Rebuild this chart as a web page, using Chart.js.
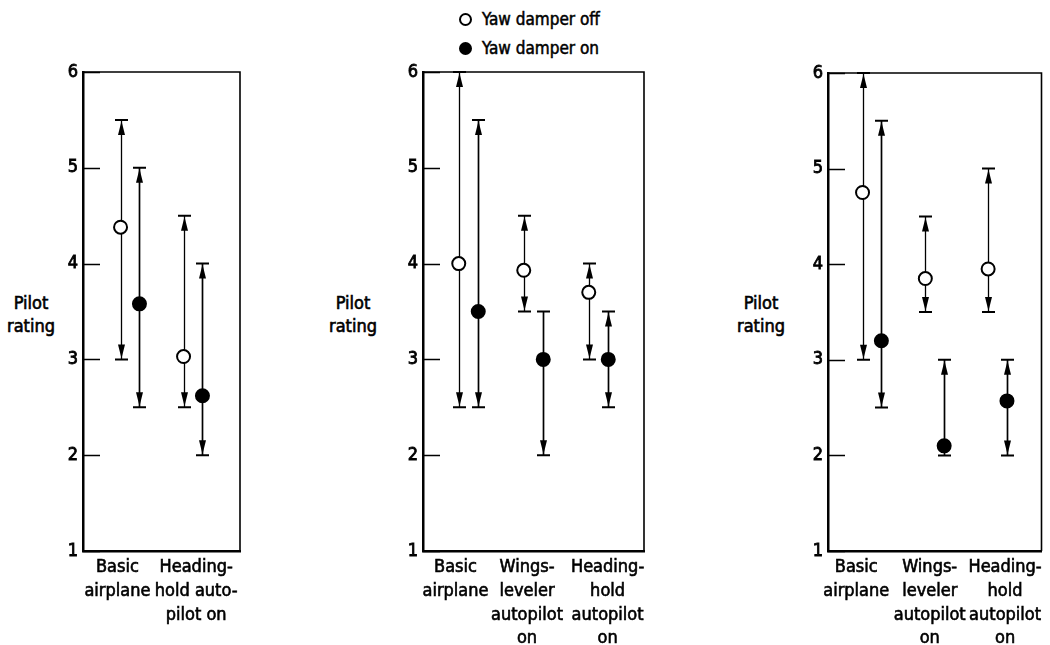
<!DOCTYPE html>
<html>
<head>
<meta charset="utf-8">
<script src="https://cdn.jsdelivr.net/npm/chart.js@4/dist/chart.umd.min.js"></script>
<style>
  html, body { margin: 0; padding: 0; background: #fff; width: 1050px; height: 645px; overflow: hidden; }
  body { position: relative; font-family: 'DejaVu Sans Condensed', 'Liberation Sans Narrow', 'DejaVu Sans', sans-serif; color: #000; }
  canvas.panel { position: absolute; }
  .ytitle { position: absolute; width: 70px; text-align: center; font-size: 18px; line-height: 23px; -webkit-text-stroke: 0.6px #000; }
  .legend { position: absolute; left: 459px; font-size: 17px; line-height: 20px; white-space: nowrap; -webkit-text-stroke: 0.5px #000; }
  .legend .mk { display: inline-block; width: 9px; height: 9px; border: 2px solid #000; border-radius: 50%; vertical-align: -1px; margin-right: 10px; -webkit-text-stroke: 0; }
  .legend .mk.on { background: #000; }
</style>
</head>
<body>
<div class="legend" style="top:9px"><span class="mk"></span>Yaw damper off</div>
<div class="legend" style="top:38px"><span class="mk on"></span>Yaw damper on</div>

<div class="ytitle" style="left:-4px; top:291px">Pilot<br>rating</div>
<div class="ytitle" style="left:318px; top:291px">Pilot<br>rating</div>
<div class="ytitle" style="left:726px; top:291px">Pilot<br>rating</div>

<canvas id="c1" class="panel"></canvas>
<canvas id="c2" class="panel"></canvas>
<canvas id="c3" class="panel"></canvas>

<script>
const FONT = "'DejaVu Sans Condensed', 'Liberation Sans Narrow', 'DejaVu Sans', sans-serif";

// Rating scale
const ratingTicks = [1, 2, 3, 4, 5, 6];

// Left panel: basic airplane and heading-hold autopilot
const p1Labels = [['Basic', 'airplane'], ['Heading-', 'hold auto-', 'pilot on']];
const p1OffMid = [4.38, 3.03];
const p1OffLow = [3.0, 2.5];
const p1OffHigh = [5.5, 4.5];
const p1OnMid = [3.58, 2.62];
const p1OnLow = [2.5, 2.0];
const p1OnHigh = [5.0, 4.0];

// Middle panel
const p2Labels = [['Basic', 'airplane'], ['Wings-', 'leveler', 'autopilot', 'on'], ['Heading-', 'hold', 'autopilot', 'on']];
const p2OffMid = [4.0, 3.93, 3.7];
const p2OffLow = [2.5, 3.5, 3.0];
const p2OffHigh = [6.0, 4.5, 4.0];
const p2OnMid = [3.5, 3.0, 3.0];
const p2OnLow = [2.5, 2.0, 2.5];
const p2OnHigh = [5.5, 3.5, 3.5];

// Right panel
const p3Labels = [['Basic', 'airplane'], ['Wings-', 'leveler', 'autopilot', 'on'], ['Heading-', 'hold', 'autopilot', 'on']];
const p3OffMid = [4.75, 3.85, 3.95];
const p3OffLow = [3.0, 3.5, 3.5];
const p3OffHigh = [6.0, 4.5, 5.0];
const p3OnMid = [3.2, 2.1, 2.57];
const p3OnLow = [2.5, 2.0, 2.0];
const p3OnHigh = [5.5, 3.0, 3.0];

// Bars whose upper end is drawn as a plain cap without an arrowhead
const p2OnPlainTop = [false, true, false];

const PAIR_OFFSET = 0.15;
const POINT_R = 6.5;

// Range bars with end caps and arrowheads pointing out to the caps
const rangeBars = {
  id: 'rangeBars',
  beforeDatasetsDraw(chart) {
    const ctx = chart.ctx;
    const xs = chart.scales.x, ys = chart.scales.y;
    ctx.save();
    ctx.strokeStyle = '#000';
    ctx.fillStyle = '#000';
    chart.data.datasets.forEach(ds => {
      ds.data.forEach((p, i) => {
        const px = Math.round(xs.getPixelForValue(p.x)) + 0.5;
        const yMid = ys.getPixelForValue(p.y);
        const yHi = ys.getPixelForValue(ds.high[i]);
        const yLo = ys.getPixelForValue(ds.low[i]);
        ctx.lineWidth = ds.barWidth;
        ctx.beginPath();
        ctx.moveTo(px, yHi); ctx.lineTo(px, yLo);
        ctx.stroke();
        ctx.lineWidth = 2;
        ctx.beginPath();
        ctx.moveTo(px - 6.5, yHi); ctx.lineTo(px + 6.5, yHi);
        ctx.moveTo(px - 6.5, yLo); ctx.lineTo(px + 6.5, yLo);
        ctx.stroke();
        const aLen = 15, aHalf = 3.5;
        const plainTop = ds.plainTop && ds.plainTop[i];
        if (!plainTop && (yMid - POINT_R) - yHi > aLen + 4) {
          ctx.beginPath();
          ctx.moveTo(px, yHi + 1);
          ctx.lineTo(px - aHalf, yHi + aLen);
          ctx.lineTo(px + aHalf, yHi + aLen);
          ctx.closePath(); ctx.fill();
        }
        if (yLo - (yMid + POINT_R) > aLen + 4) {
          ctx.beginPath();
          ctx.moveTo(px, yLo - 1);
          ctx.lineTo(px - aHalf, yLo - aLen);
          ctx.lineTo(px + aHalf, yLo - aLen);
          ctx.closePath(); ctx.fill();
        }
      });
    });
    ctx.restore();
  }
};

// Top and right edges of the box, plus short inward ticks on the rating axis
const boxFrame = {
  id: 'boxFrame',
  afterDraw(chart) {
    const ctx = chart.ctx, a = chart.chartArea, ys = chart.scales.y;
    ctx.save();
    ctx.strokeStyle = '#000';
    ctx.lineWidth = 1.6;
    ctx.beginPath();
    ctx.moveTo(a.left, a.top); ctx.lineTo(a.right, a.top); ctx.lineTo(a.right, a.bottom);
    ctx.stroke();
    ctx.lineWidth = 1.3;
    ctx.beginPath();
    ys.ticks.forEach(t => {
      const y = Math.round(ys.getPixelForValue(t.value)) + 0.5;
      ctx.moveTo(a.left, y); ctx.lineTo(a.left + 17, y);
    });
    ctx.stroke();
    ctx.restore();
  }
};

function series(mid, low, high, offset, filled, plainTop) {
  return {
    label: filled ? 'Yaw damper on' : 'Yaw damper off',
    data: mid.map((v, i) => ({ x: i + 1 + offset, y: v })),
    low: low,
    high: high,
    plainTop: plainTop || null,
    barWidth: filled ? 1.7 : 1.3,
    pointRadius: POINT_R,
    pointHoverRadius: POINT_R,
    pointBackgroundColor: filled ? '#000' : '#fff',
    pointBorderColor: '#000',
    pointBorderWidth: 2,
    showLine: false
  };
}

function drawPanel(id, box, labels, labelPos, xMin, xMax, off, on) {
  const AXIS_W = 50, PAD_TOP = 15;
  const padRight = Math.min(20, 1050 - box.right);
  const el = document.getElementById(id);
  const top = box.top - PAD_TOP;
  const W = AXIS_W + (box.right - box.left) + padRight;
  const H = 645 - top;
  el.style.left = (box.left - AXIS_W) + 'px';
  el.style.top = top + 'px';
  el.width = W; el.height = H;
  el.style.width = W + 'px'; el.style.height = H + 'px';
  const xAxisH = H - PAD_TOP - (box.bottom - box.top);
  const tickFont = { family: FONT, size: 18, lineHeight: 1.33 };

  new Chart(el.getContext('2d'), {
    type: 'scatter',
    data: {
      datasets: [
        series(off[0], off[1], off[2], -PAIR_OFFSET, false, off[3]),
        series(on[0], on[1], on[2], PAIR_OFFSET, true, on[3])
      ]
    },
    options: {
      responsive: false,
      animation: false,
      devicePixelRatio: 1,
      events: [],
      layout: { padding: { top: PAD_TOP, right: padRight, left: 0, bottom: 0 } },
      plugins: { legend: { display: false }, tooltip: { enabled: false } },
      scales: {
        x: {
          type: 'linear', min: xMin, max: xMax,
          afterBuildTicks: s => { s.ticks = labelPos.map(v => ({ value: v })); },
          afterFit: s => { s.height = xAxisH; s.paddingLeft = 0; s.paddingRight = 0; },
          ticks: {
            autoSkip: false, maxRotation: 0, minRotation: 0, color: '#000', padding: 4,
            font: tickFont, textStrokeColor: '#000', textStrokeWidth: 0.6,
            callback: (v, i) => labels[i]
          },
          grid: { display: false, drawTicks: false },
          border: { display: true, color: '#000', width: 2.5 }
        },
        y: {
          min: 1, max: 6,
          afterBuildTicks: s => { s.ticks = ratingTicks.map(v => ({ value: v })); },
          afterFit: s => { s.width = AXIS_W; s.paddingTop = 0; s.paddingBottom = 0; },
          ticks: { color: '#000', padding: 5, font: { family: FONT, size: 18 }, textStrokeColor: '#000', textStrokeWidth: 0.8 },
          grid: { display: false, drawTicks: false },
          border: { display: true, color: '#000', width: 2.5 }
        }
      }
    },
    plugins: [rangeBars, boxFrame]
  });
}

drawPanel('c1', { left: 83, right: 240, top: 72, bottom: 551 }, p1Labels, [0.8, 2.05],
  0.254, 2.746, [p1OffMid, p1OffLow, p1OffHigh], [p1OnMid, p1OnLow, p1OnHigh]);

drawPanel('c2', { left: 423, right: 644, top: 72, bottom: 551 }, p2Labels, [0.8, 1.9, 3.14],
  0.3, 3.7, [p2OffMid, p2OffLow, p2OffHigh], [p2OnMid, p2OnLow, p2OnHigh, p2OnPlainTop]);

drawPanel('c3', { left: 828, right: 1048, top: 73, bottom: 551 }, p3Labels, [0.75, 1.92, 3.12],
  0.3, 3.7, [p3OffMid, p3OffLow, p3OffHigh], [p3OnMid, p3OnLow, p3OnHigh]);
</script>
</body>
</html>
